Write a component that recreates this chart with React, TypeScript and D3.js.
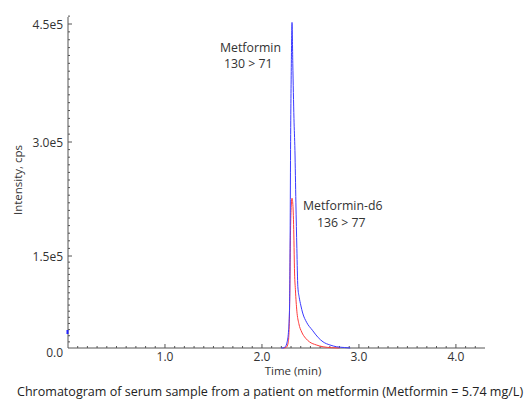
import React from "react";
import * as d3 from "d3";

// Metformin 130 > 71 (blue), time in min, intensity in cps
const blueTime = [2.2, 2.22, 2.24, 2.26, 2.275, 2.285, 2.29, 2.295, 2.303, 2.31, 2.318, 2.33, 2.34, 2.35, 2.36, 2.37, 2.385, 2.4, 2.42, 2.46, 2.52, 2.58, 2.63, 2.7, 2.77, 2.85, 2.91];
const blueValues = [0, 200, 2000, 10000, 30000, 70000, 160000, 290000, 400000, 452000, 400000, 330000, 289000, 220000, 160000, 100000, 82000, 70000, 57000, 42000, 29000, 17000, 10000, 5000, 2000, 800, 0];

// Metformin-d6 136 > 77 (red)
const redTime = [2.22, 2.25, 2.27, 2.28, 2.287, 2.293, 2.3, 2.31, 2.32, 2.33, 2.335, 2.345, 2.36, 2.38, 2.41, 2.45, 2.49, 2.56, 2.63, 2.72, 2.8];
const redValues = [0, 1000, 8000, 30000, 90000, 170000, 210000, 226000, 215000, 170000, 130000, 95000, 60000, 40000, 26000, 16000, 10000, 5000, 2000, 500, 0];

const xTickValues = [1.0, 2.0, 3.0, 4.0];
const xTickLabels = ["1.0", "2.0", "3.0", "4.0"];
const yTickValues = [0, 150000, 300000, 450000];
const yTickLabels = ["0.0", "1.5e5", "3.0e5", "4.5e5"];

const peakLabelLines = [
  ["Metformin", "130 > 71"],
  ["Metformin-d6", "136 > 77"],
];

const caption = "Chromatogram of serum sample from a patient on metformin (Metformin = 5.74 mg/L)";

export default function App() {
  const W = 525, H = 403;
  const x = d3.scaleLinear().domain([0, 4.3]).range([68, 485]);
  const y = d3.scaleLinear().domain([0, 150000, 300000, 450000]).range([348, 256, 142, 24]);
  const font = "'Open Sans', sans-serif";
  const line = d3.line<[number, number]>().x((d) => x(d[0])).y((d) => y(d[1])).curve(d3.curveMonotoneX);
  const blueData = blueTime.map((t, i) => [t, blueValues[i]] as [number, number]);
  const redData = redTime.map((t, i) => [t, redValues[i]] as [number, number]);
  const xMinor = d3.range(1, 43).map((i) => i / 10);
  const yMinor = d3.range(1, 47).map((i) => i * 10000);
  const axisColor = "#555";
  const textColor = "#333";
  return (
    <svg width={W} height={H} style={{ position: "absolute", left: 0, top: 0, background: "#fff" }}>
      <rect width={W} height={H} fill="#fff" />
      {/* axes */}
      <line x1={x(0)} x2={x(0)} y1={17} y2={y(0)} stroke={axisColor} strokeWidth={1} />
      <line x1={x(0)} x2={x(4.3)} y1={y(0)} y2={y(0)} stroke={axisColor} strokeWidth={1} />
      {xMinor.map((t) => (
        <line key={"xm" + t} x1={x(t)} x2={x(t)} y1={y(0)} y2={y(0) - (Math.abs(t * 10 % 10) < 0.01 ? 4 : 2)} stroke={axisColor} strokeWidth={1} />
      ))}
      {yMinor.map((v) => (
        <line key={"ym" + v} x1={x(0)} x2={x(0) + (v % 150000 === 0 ? 4 : 2)} y1={y(v)} y2={y(v)} stroke={axisColor} strokeWidth={1} />
      ))}
      {xTickValues.map((t, i) => (
        <text key={"xt" + t} x={x(t)} y={356} textAnchor="middle" dominantBaseline="central" fontFamily={font} fontSize={12} fill={textColor}>
          {xTickLabels[i]}
        </text>
      ))}
      {yTickValues.map((v, i) => (
        <text key={"yt" + v} x={63} y={v === 0 ? y(v) + 4 : y(v)} textAnchor="end" dominantBaseline="central" fontFamily={font} fontSize={12} fill={textColor}>
          {yTickLabels[i]}
        </text>
      ))}
      <rect x={x(0) - 1.5} y={330} width={2} height={4} fill="#2020ff" />
      {/* traces */}
      <path d={line(redData) || ""} fill="none" stroke="#ff3a3a" strokeWidth={1} />
      <path d={line(blueData) || ""} fill="none" stroke="#3a3aff" strokeWidth={1} />
      {/* peak labels */}
      <text x={220} y={47} dominantBaseline="central" fontFamily={font} fontSize={12.3} fill={textColor}>{peakLabelLines[0][0]}</text>
      <text x={224} y={63} dominantBaseline="central" fontFamily={font} fontSize={12.3} fill={textColor}>{peakLabelLines[0][1]}</text>
      <text x={303} y={205} dominantBaseline="central" fontFamily={font} fontSize={12.3} fill={textColor}>{peakLabelLines[1][0]}</text>
      <text x={317} y={222} dominantBaseline="central" fontFamily={font} fontSize={12.3} fill={textColor}>{peakLabelLines[1][1]}</text>
      {/* axis titles */}
      <text x={293} y={370} textAnchor="middle" dominantBaseline="central" fontFamily={font} fontSize={11.5} fill={textColor}>Time (min)</text>
      <text transform="translate(17,180) rotate(-90)" textAnchor="middle" dominantBaseline="central" fontFamily={font} fontSize={11.5} fill={textColor}>Intensity, cps</text>
      <text x={17} y={396} fontFamily={font} fontSize={12.55} fill="#222">{caption}</text>
    </svg>
  );
}
